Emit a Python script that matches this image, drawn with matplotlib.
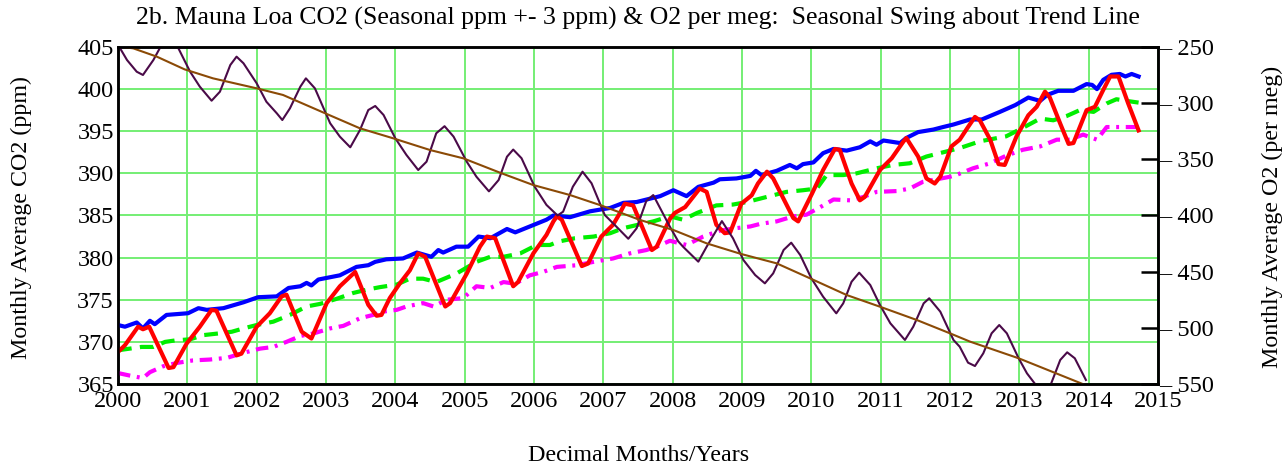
import matplotlib
matplotlib.use("Agg")
import matplotlib.pyplot as plt
from matplotlib.ticker import FixedLocator, FuncFormatter

plt.rcParams['font.family'] = ['Liberation Serif', 'DejaVu Serif']

# ---------------- data ----------------
co2_seasonal_x = [2000.00, 2000.10, 2000.29, 2000.36, 2000.45, 2000.73, 2000.80, 2000.99, 2001.18, 2001.35,
                  2001.42, 2001.71, 2001.78, 2002.00, 2002.19, 2002.36, 2002.43, 2002.65, 2002.79, 2003.01,
                  2003.20, 2003.42, 2003.61, 2003.73, 2003.80, 2003.92, 2004.07, 2004.21, 2004.33, 2004.43,
                  2004.72, 2004.79, 2005.03, 2005.22, 2005.32, 2005.44, 2005.70, 2005.77, 2005.99, 2006.18,
                  2006.28, 2006.33, 2006.40, 2006.69, 2006.78, 2006.97, 2007.14, 2007.24, 2007.31, 2007.43,
                  2007.70, 2007.77, 2007.96, 2008.03, 2008.18, 2008.39, 2008.49, 2008.63, 2008.75, 2008.83,
                  2008.99, 2009.14, 2009.23, 2009.36, 2009.45, 2009.74, 2009.81, 2010.01, 2010.17, 2010.34,
                  2010.41, 2010.58, 2010.70, 2010.77, 2010.99, 2011.16, 2011.33, 2011.37, 2011.54, 2011.66,
                  2011.78, 2011.86, 2012.02, 2012.14, 2012.26, 2012.36, 2012.43, 2012.58, 2012.70, 2012.79,
                  2012.96, 2013.13, 2013.25, 2013.37, 2013.44, 2013.59, 2013.71, 2013.78, 2013.97, 2014.09,
                  2014.21, 2014.31, 2014.43, 2014.57, 2014.72]
co2_seasonal = [368.8, 369.6, 371.8, 371.5, 371.8, 366.9, 367.0, 369.8, 371.8, 373.8,
                373.7, 368.4, 368.6, 371.8, 373.4, 375.4, 375.6, 371.2, 370.4, 374.6,
                376.6, 378.3, 374.4, 373.1, 373.2, 375.2, 377.0, 378.5, 380.5, 380.1,
                374.2, 374.6, 378.1, 381.3, 382.5, 382.3, 376.6, 377.1, 380.5, 382.7,
                384.3, 384.9, 384.5, 379.0, 379.3, 382.5, 383.9, 385.3, 386.4, 386.2,
                380.9, 381.3, 384.6, 385.3, 386.0, 388.2, 387.8, 383.9, 382.9, 383.0,
                386.4, 387.4, 388.8, 390.2, 389.4, 384.7, 384.3, 387.6, 390.4, 392.9,
                392.8, 388.8, 386.8, 387.2, 390.4, 391.8, 393.8, 394.2, 392.0, 389.4,
                388.8, 389.6, 393.2, 394.0, 395.5, 396.7, 396.3, 394.0, 391.1, 391.0,
                394.4, 396.9, 397.9, 399.7, 399.0, 395.9, 393.5, 393.6, 397.5, 397.9,
                399.9, 401.5, 401.5, 398.3, 395.1]

co2_upper_x = [2000.00, 2000.10, 2000.27, 2000.36, 2000.46, 2000.53, 2000.70, 2001.01, 2001.16, 2001.28,
               2001.52, 2001.81, 2002.02, 2002.29, 2002.46, 2002.63, 2002.72, 2002.79, 2002.89, 2003.20,
               2003.44, 2003.61, 2003.71, 2003.87, 2004.11, 2004.31, 2004.52, 2004.62, 2004.69, 2004.88,
               2005.05, 2005.20, 2005.37, 2005.61, 2005.73, 2005.94, 2006.18, 2006.28, 2006.52, 2006.81,
               2007.10, 2007.29, 2007.48, 2007.82, 2008.01, 2008.20, 2008.37, 2008.59, 2008.68, 2008.92,
               2009.12, 2009.20, 2009.28, 2009.50, 2009.69, 2009.79, 2009.88, 2010.03, 2010.17, 2010.32,
               2010.51, 2010.70, 2010.85, 2010.94, 2011.04, 2011.28, 2011.37, 2011.54, 2011.76, 2011.90,
               2012.05, 2012.29, 2012.46, 2012.72, 2012.94, 2013.13, 2013.30, 2013.40, 2013.56, 2013.78,
               2013.97, 2014.05, 2014.12, 2014.21, 2014.33, 2014.45, 2014.53, 2014.62, 2014.72]
co2_upper = [372.0, 371.8, 372.3, 371.6, 372.5, 372.1, 373.2, 373.4, 374.0, 373.8,
             374.0, 374.7, 375.3, 375.4, 376.4, 376.6, 377.0, 376.7, 377.4, 377.9,
             378.9, 379.1, 379.5, 379.8, 379.9, 380.6, 380.1, 380.9, 380.6, 381.3,
             381.3, 382.5, 382.3, 383.4, 383.0, 383.7, 384.5, 385.0, 384.8, 385.5,
             385.9, 386.5, 386.6, 387.3, 388.0, 387.3, 388.4, 388.9, 389.3, 389.4,
             389.7, 390.3, 389.8, 390.3, 391.0, 390.6, 391.1, 391.3, 392.4, 392.9,
             392.7, 393.1, 393.8, 393.4, 393.9, 393.6, 394.2, 394.9, 395.2, 395.5,
             395.8, 396.4, 396.4, 397.3, 398.1, 399.0, 398.6, 399.3, 399.8, 399.8,
             400.6, 400.5, 400.0, 401.1, 401.7, 401.8, 401.5, 401.8, 401.5]

co2_trend_x = [2000.00, 2000.17, 2000.34, 2000.51, 2000.68, 2000.85, 2001.04, 2001.23, 2001.45, 2001.64,
               2001.81, 2002.00, 2002.24, 2002.48, 2002.72, 2002.91, 2003.15, 2003.39, 2003.59, 2003.78,
               2004.02, 2004.21, 2004.40, 2004.59, 2004.88, 2005.17, 2005.37, 2005.56, 2005.80, 2006.04,
               2006.23, 2006.35, 2006.59, 2006.86, 2007.10, 2007.29, 2007.50, 2007.72, 2007.96, 2008.15,
               2008.35, 2008.63, 2008.87, 2009.07, 2009.26, 2009.45, 2009.64, 2009.88, 2010.08, 2010.22,
               2010.46, 2010.65, 2010.94, 2011.18, 2011.42, 2011.66, 2011.90, 2012.14, 2012.43, 2012.81,
               2013.05, 2013.30, 2013.49, 2013.68, 2013.87, 2014.07, 2014.26, 2014.40, 2014.55, 2014.72]
co2_trend = [369.0, 369.2, 369.4, 369.4, 370.0, 370.2, 370.3, 370.8, 371.0, 371.2,
             371.6, 372.0, 372.4, 373.2, 374.2, 374.5, 375.1, 375.8, 376.2, 376.5,
             376.8, 377.5, 377.5, 377.1, 378.1, 379.5, 380.1, 380.1, 380.5, 381.5,
             381.5, 381.9, 382.3, 382.5, 382.9, 383.5, 383.9, 384.3, 384.9, 384.5,
             385.3, 386.2, 386.3, 386.6, 387.0, 387.4, 387.8, 388.0, 388.2, 389.8,
             389.8, 390.0, 390.6, 391.0, 391.2, 392.0, 392.5, 393.0, 393.8, 394.4,
             395.4, 396.5, 396.3, 396.8, 397.5, 397.3, 398.3, 398.8, 398.6, 398.4]

co2_lower_x = [2000.00, 2000.17, 2000.36, 2000.46, 2000.65, 2000.85, 2001.08, 2001.32, 2001.57, 2001.81,
               2002.05, 2002.24, 2002.43, 2002.63, 2002.82, 2003.06, 2003.25, 2003.49, 2003.68, 2003.83,
               2004.02, 2004.16, 2004.40, 2004.55, 2004.74, 2004.98, 2005.17, 2005.37, 2005.56, 2005.73,
               2005.94, 2006.13, 2006.33, 2006.62, 2006.86, 2007.14, 2007.38, 2007.62, 2007.77, 2007.96,
               2008.20, 2008.44, 2008.68, 2008.92, 2009.12, 2009.26, 2009.50, 2009.74, 2009.93, 2010.13,
               2010.32, 2010.56, 2010.75, 2010.94, 2011.23, 2011.42, 2011.61, 2011.81, 2012.00, 2012.09,
               2012.33, 2012.58, 2012.81, 2013.05, 2013.30, 2013.54, 2013.73, 2013.92, 2014.12, 2014.26,
               2014.45, 2014.72]
co2_lower = [366.3, 366.0, 365.7, 366.4, 367.1, 367.5, 367.8, 367.9, 368.1, 368.7,
             369.2, 369.4, 370.0, 370.7, 371.0, 371.6, 371.9, 372.8, 373.2, 373.6,
             373.8, 374.2, 374.6, 374.2, 375.0, 375.2, 376.6, 376.4, 377.1, 376.9,
             377.9, 378.3, 378.9, 379.1, 379.5, 379.9, 380.5, 380.9, 381.3, 382.0,
             381.5, 382.5, 383.2, 383.5, 383.7, 384.0, 384.3, 384.9, 385.1, 386.0,
             386.9, 386.8, 387.2, 387.8, 387.9, 388.2, 389.0, 389.3, 389.6, 389.8,
             390.6, 391.2, 392.1, 392.8, 393.2, 394.0, 394.0, 394.6, 394.0, 395.5,
             395.5, 395.5]

o2_monthly_x = [2000.00, 2000.13, 2000.27, 2000.36, 2000.51, 2000.70, 2000.87, 2001.04, 2001.18, 2001.35,
                2001.47, 2001.62, 2001.71, 2001.81, 2002.00, 2002.14, 2002.29, 2002.37, 2002.48, 2002.63,
                2002.71, 2002.84, 2003.06, 2003.20, 2003.35, 2003.49, 2003.61, 2003.71, 2003.83, 2004.00,
                2004.16, 2004.33, 2004.45, 2004.59, 2004.71, 2004.84, 2005.03, 2005.17, 2005.35, 2005.49,
                2005.61, 2005.70, 2005.82, 2006.01, 2006.18, 2006.34, 2006.42, 2006.56, 2006.70, 2006.83,
                2007.02, 2007.19, 2007.36, 2007.48, 2007.62, 2007.72, 2007.96, 2008.08, 2008.15, 2008.37,
                2008.49, 2008.71, 2008.87, 2009.02, 2009.19, 2009.33, 2009.45, 2009.60, 2009.71, 2009.84,
                2010.00, 2010.17, 2010.36, 2010.46, 2010.58, 2010.69, 2010.85, 2010.99, 2011.14, 2011.35,
                2011.47, 2011.62, 2011.70, 2011.86, 2012.05, 2012.14, 2012.26, 2012.36, 2012.48, 2012.60,
                2012.71, 2012.82, 2012.99, 2013.11, 2013.24, 2013.35, 2013.45, 2013.59, 2013.69, 2013.80,
                2013.96]
o2_monthly = [-248.0, -261.6, -272.0, -274.9, -261.6, -240.0, -251.0, -272.0, -285.3, -297.8,
              -289.8, -266.0, -258.6, -264.5, -282.3, -298.7, -309.0, -315.0, -304.6, -285.3,
              -277.9, -286.8, -317.9, -329.8, -339.3, -323.9, -306.1, -302.5, -310.5, -331.3,
              -346.1, -359.5, -352.1, -326.8, -320.5, -329.8, -352.1, -365.5, -378.5, -368.4,
              -347.7, -341.3, -349.0, -374.4, -390.6, -400.0, -396.6, -374.4, -361.0, -371.3,
              -399.5, -410.0, -420.7, -411.4, -387.0, -381.8, -410.0, -423.0, -427.8, -441.1,
              -427.8, -405.0, -420.3, -439.6, -453.0, -460.4, -451.5, -430.7, -424.2, -435.2,
              -455.9, -472.3, -487.1, -478.2, -459.0, -450.9, -461.9, -479.7, -496.0, -510.8,
              -499.0, -478.2, -473.7, -485.6, -510.8, -516.8, -531.0, -534.0, -522.7, -504.9,
              -497.5, -504.9, -527.1, -540.5, -551.0, -558.0, -551.0, -528.6, -521.8, -527.1,
              -546.4]

o2_trend_x = [2000.00, 2000.22, 2000.56, 2000.96, 2001.37, 2002.00, 2002.38, 2002.95, 2003.49, 2003.97,
              2004.50, 2004.98, 2005.51, 2005.99, 2006.52, 2006.98, 2007.53, 2008.01, 2008.49, 2008.99,
              2009.50, 2009.98, 2010.51, 2010.99, 2011.52, 2012.00, 2012.29, 2012.99, 2013.95]
o2_trend = [-249.5, -251.2, -258.6, -269.9, -277.9, -286.8, -292.7, -308.0, -322.4, -331.3,
            -341.7, -349.1, -361.9, -372.9, -381.8, -391.3, -404.0, -412.9, -424.8, -434.3,
            -442.6, -455.9, -470.8, -481.2, -493.0, -504.9, -512.3, -527.1, -550.9]

x_ticks = list(range(2000, 2016))
co2_ticks = [365, 370, 375, 380, 385, 390, 395, 400, 405]
o2_ticks = [-550, -500, -450, -400, -350, -300, -250]

# ---------------- figure ----------------
fig = plt.figure(figsize=(12.87, 4.67), dpi=100)
ax = fig.add_axes([118 / 1287, 1 - 384 / 467, (1158 - 118) / 1287, (384 - 47) / 467])

grid_color = '#74ee74'
ax.set_xlim(2000, 2015)
ax.set_ylim(365, 405)
ax.xaxis.set_major_locator(FixedLocator(x_ticks))
ax.yaxis.set_major_locator(FixedLocator(co2_ticks))
ax.grid(True, color=grid_color, linewidth=1.4)
ax.set_axisbelow(True)
ax.tick_params(axis='both', length=0, labelsize=17.5, pad=3)
ax.tick_params(axis='x', pad=5)

ax.plot(co2_upper_x, co2_upper, color='#0000ff', lw=3.0, solid_joinstyle='round', zorder=3)
ax.plot(co2_trend_x, co2_trend, color='#00ee00', lw=3.0, linestyle=(0, (3.3, 2.0)), zorder=3)
ax.plot(co2_lower_x, co2_lower, color='#ff00ff', lw=3.0, linestyle=(0, (3.0, 1.6, 0.7, 1.6)), zorder=3)
ax.plot(co2_seasonal_x, co2_seasonal, color='#ff0000', lw=3.0, solid_joinstyle='round', zorder=4)

for s in ax.spines.values():
    s.set_linewidth(1.8)
    s.set_color('black')

ax2 = ax.twinx()
ax2.set_ylim(-550, -250)
ax2.yaxis.set_major_locator(FixedLocator(o2_ticks))
ax2.yaxis.set_major_formatter(FuncFormatter(lambda v, p: '\u2013 %d' % abs(v)))
ax2.tick_params(axis='y', direction='in', length=12, width=1.8, labelsize=17.5, pad=1)
ax2.plot(o2_monthly_x, o2_monthly, color='#4a0a48', lw=1.5)
ax2.plot(o2_trend_x, o2_trend, color='#8b4a06', lw=1.5)
for s in ax2.spines.values():
    s.set_linewidth(1.8)

fig.text(0.496, 0.961, '2b. Mauna Loa CO2 (Seasonal ppm +- 3 ppm) & O2 per meg:  Seasonal Swing about Trend Line',
         ha='center', va='center', fontsize=18.5)
fig.text(0.496, 0.024, 'Decimal Months/Years', ha='center', va='center', fontsize=17.3)
fig.text(0.017, 0.535, 'Monthly Average CO2 (ppm)', ha='center', va='center', rotation=90, fontsize=17.3)
fig.text(0.989, 0.535, 'Monthly Average O2 (per meg)', ha='center', va='center', rotation=90, fontsize=17.3)

fig.savefig('out.png', dpi=100)
